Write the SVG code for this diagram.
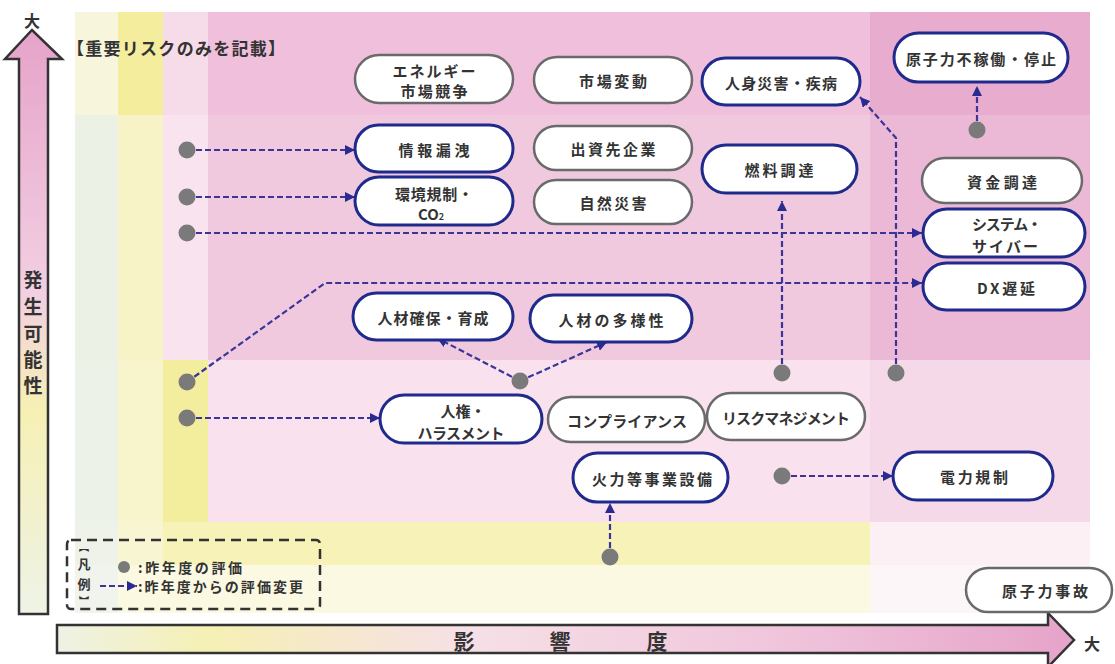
<svg xmlns="http://www.w3.org/2000/svg" width="1115" height="664" viewBox="0 0 1115 664">
<defs>
<style>
.t{font-family:"Noto Sans CJK JP","Noto Sans",sans-serif;font-weight:700;fill:#333;font-size:15px;text-anchor:middle;dominant-baseline:central}
.nb{fill:#fff;stroke:#1f2a8c;stroke-width:3}
.ng{fill:#fff;stroke:#6a6a6a;stroke-width:2.5}
.c{fill:none;stroke:#3b3599;stroke-width:2.2;stroke-dasharray:6 3;marker-end:url(#ah)}
.dot{fill:#7a7a7a}
.ax{stroke:#333;stroke-width:2.5}
</style>
<marker id="ah" markerUnits="userSpaceOnUse" markerWidth="11" markerHeight="10" refX="10" refY="5" orient="auto">
<path d="M0,0 L10,5 L0,10 z" fill="#2a2a90"/>
</marker>
<linearGradient id="gv" x1="0" y1="0" x2="0" y2="1">
<stop offset="0" stop-color="#e6a3c9"/>
<stop offset="0.45" stop-color="#f2cfe2"/>
<stop offset="0.65" stop-color="#f6f0b4"/>
<stop offset="1" stop-color="#eef3e6"/>
</linearGradient>
<linearGradient id="gh" x1="0" y1="0" x2="1" y2="0">
<stop offset="0" stop-color="#eef2e4"/>
<stop offset="0.15" stop-color="#f5f0b4"/>
<stop offset="0.4" stop-color="#f6e0e6"/>
<stop offset="0.7" stop-color="#f0c6dc"/>
<stop offset="1" stop-color="#e6a3c9"/>
</linearGradient>
</defs>
<rect width="1115" height="664" fill="#fff"/>
<g id="background">
<rect x="75" y="12" width="43" height="103" fill="#f7f6dc"/>
<rect x="118" y="12" width="45" height="103" fill="#f4ed9e"/>
<rect x="163" y="12" width="45" height="103" fill="#f6dce9"/>
<rect x="208" y="12" width="662" height="103" fill="#efbfdb"/>
<rect x="870" y="12" width="220" height="103" fill="#e8accf"/>
<rect x="75" y="115" width="43" height="245" fill="#ecf1e6"/>
<rect x="118" y="115" width="45" height="245" fill="#f7f3c6"/>
<rect x="163" y="115" width="45" height="245" fill="#f8e3ee"/>
<rect x="208" y="115" width="662" height="245" fill="#f0c9df"/>
<rect x="870" y="115" width="220" height="245" fill="#ebb8d6"/>
<rect x="75" y="360" width="43" height="162" fill="#edf2e8"/>
<rect x="118" y="360" width="45" height="162" fill="#f8f5cc"/>
<rect x="163" y="360" width="45" height="162" fill="#f3ee9e"/>
<rect x="208" y="360" width="662" height="162" fill="#f9e2ee"/>
<rect x="870" y="360" width="220" height="162" fill="#f6d9e8"/>
<rect x="75" y="522" width="43" height="43" fill="#eef2e8"/>
<rect x="118" y="522" width="45" height="43" fill="#f8f6d2"/>
<rect x="163" y="522" width="707" height="43" fill="#f7f3b8"/>
<rect x="870" y="522" width="220" height="43" fill="#fcf0f5"/>
<rect x="75" y="565" width="43" height="48" fill="#f1f4ec"/>
<rect x="118" y="565" width="752" height="48" fill="#fbf9e2"/>
<rect x="870" y="565" width="220" height="48" fill="#fdf6f9"/>
</g>
<g id="axes">
<polygon class="ax" points="19,614 19,59 5,59 32,30 62,59 48,59 48,614" fill="url(#gv)"/>
<polygon class="ax" points="57,625 1048,625 1048,613 1074,640 1048,667 1048,653 57,653" fill="url(#gh)"/>
<text class="t" x="32" y="20" style="font-size:16px">大</text>
<text class="t" x="1092" y="643" style="font-size:16px">大</text>
<text class="t" style="font-size:19px">
<tspan x="33" y="278">発</tspan><tspan x="33" y="305">生</tspan><tspan x="33" y="332">可</tspan><tspan x="33" y="358">能</tspan><tspan x="33" y="384">性</tspan>
</text>
<text class="t" style="font-size:21px">
<tspan x="464" y="640">影</tspan><tspan x="560" y="640">響</tspan><tspan x="657" y="640">度</tspan>
</text>
</g>
<text id="title" class="t" x="67" y="47" style="font-size:17px;text-anchor:start" textLength="218" lengthAdjust="spacing">【重要リスクのみを記載】</text>
<g id="legend">
<rect x="67" y="540" width="253" height="69" rx="4" fill="none" stroke="#333" stroke-width="2.5" stroke-dasharray="10 6"/>
<text class="t" x="84" y="546" style="font-size:10px">︻</text>
<text class="t" x="84" y="563" style="font-size:13px">凡</text>
<text class="t" x="84" y="583" style="font-size:13px">例</text>
<text class="t" x="84" y="600" style="font-size:10px">︼</text>
<circle class="dot" cx="124" cy="567" r="6"/>
<line x1="100" y1="586" x2="137" y2="586" class="c"/>
<text class="t" x="138" y="567" style="font-size:14px;text-anchor:start" textLength="104" lengthAdjust="spacing">:昨年度の評価</text>
<text class="t" x="138" y="586" style="font-size:14px;text-anchor:start" textLength="165" lengthAdjust="spacing">:昨年度からの評価変更</text>
</g>
<g id="connectors">
<line class="c" x1="187" y1="150" x2="355" y2="150"/>
<line class="c" x1="187" y1="197" x2="355" y2="197"/>
<line class="c" x1="187" y1="233" x2="922" y2="233"/>
<polyline class="c" points="187,382 325,283 922,283"/>
<line class="c" x1="187" y1="418" x2="380" y2="418"/>
<line class="c" x1="520" y1="381" x2="437" y2="338"/>
<line class="c" x1="520" y1="381" x2="607" y2="342"/>
<line class="c" x1="782" y1="373" x2="782" y2="201"/>
<polyline class="c" points="896,373 896,138 860,97"/>
<line class="c" x1="977" y1="130" x2="977" y2="86"/>
<line class="c" x1="782" y1="476" x2="893" y2="476"/>
<line class="c" x1="610" y1="557" x2="610" y2="503"/>
</g>
<g id="dots">
<circle class="dot" cx="187" cy="150" r="8.5"/>
<circle class="dot" cx="187" cy="197" r="8.5"/>
<circle class="dot" cx="187" cy="233" r="8.5"/>
<circle class="dot" cx="187" cy="382" r="8.5"/>
<circle class="dot" cx="187" cy="418" r="8.5"/>
<circle class="dot" cx="520" cy="381" r="8.5"/>
<circle class="dot" cx="782" cy="373" r="8.5"/>
<circle class="dot" cx="896" cy="373" r="8.5"/>
<circle class="dot" cx="977" cy="130" r="8.5"/>
<circle class="dot" cx="782" cy="476" r="8.5"/>
<circle class="dot" cx="610" cy="557" r="8.5"/>
</g>
<g id="n_energy"><rect class="ng" x="355" y="55" width="158" height="48" rx="24"/>
<text class="t" x="434" y="70" textLength="83" lengthAdjust="spacing">エネルギー</text><text class="t" x="434" y="90" textLength="67" lengthAdjust="spacing">市場競争</text></g>
<g id="n_market"><rect class="ng" x="534" y="57" width="158" height="46" rx="23"/>
<text class="t" x="613" y="80" textLength="68" lengthAdjust="spacing">市場変動</text></g>
<g id="n_injury"><rect class="nb" x="702" y="58" width="158" height="47" rx="23.5"/>
<text class="t" x="781" y="82" textLength="112" lengthAdjust="spacing">人身災害・疾病</text></g>
<g id="n_nuclear_stop"><rect class="nb" x="894" y="33" width="174" height="49" rx="24.5"/>
<text class="t" x="981" y="58" textLength="150" lengthAdjust="spacing">原子力不稼働・停止</text></g>
<g id="n_info"><rect class="nb" x="355" y="125" width="158" height="47" rx="23.5"/>
<text class="t" x="434" y="149" textLength="71" lengthAdjust="spacing">情報漏洩</text></g>
<g id="n_invest"><rect class="ng" x="534" y="126" width="158" height="44" rx="22"/>
<text class="t" x="613" y="148" textLength="85" lengthAdjust="spacing">出資先企業</text></g>
<g id="n_env"><rect class="nb" x="355" y="177" width="158" height="48" rx="24"/>
<text class="t" x="434" y="193" textLength="78" lengthAdjust="spacing">環境規制・</text><text class="t" x="431" y="213">CO<tspan dy="3" style="font-size:9px">2</tspan></text></g>
<g id="n_disaster"><rect class="ng" x="534" y="180" width="158" height="44" rx="22"/>
<text class="t" x="613" y="202" textLength="67" lengthAdjust="spacing">自然災害</text></g>
<g id="n_fuel"><rect class="nb" x="702" y="145" width="155" height="48" rx="24"/>
<text class="t" x="779" y="169" textLength="69" lengthAdjust="spacing">燃料調達</text></g>
<g id="n_fund"><rect class="ng" x="922" y="158" width="160" height="45" rx="22.5"/>
<text class="t" x="1002" y="181" textLength="70" lengthAdjust="spacing">資金調達</text></g>
<g id="n_system"><rect class="nb" x="923" y="209" width="162" height="48" rx="24"/>
<text class="t" x="1007" y="223" textLength="70" lengthAdjust="spacing">システム・</text><text class="t" x="1005" y="245" textLength="66" lengthAdjust="spacing">サイバー</text></g>
<g id="n_dx"><rect class="nb" x="923" y="263" width="162" height="47" rx="23.5"/>
<text class="t" x="1006" y="287" textLength="58" lengthAdjust="spacing">DX遅延</text></g>
<g id="n_talent"><rect class="nb" x="353" y="293" width="160" height="47" rx="23.5"/>
<text class="t" x="433" y="317" textLength="111" lengthAdjust="spacing">人材確保・育成</text></g>
<g id="n_diversity"><rect class="nb" x="530" y="295" width="162" height="47" rx="23.5"/>
<text class="t" x="611" y="319" textLength="105" lengthAdjust="spacing">人材の多様性</text></g>
<g id="n_human_rights"><rect class="nb" x="380" y="395" width="162" height="48" rx="24"/>
<text class="t" x="463" y="410" textLength="45" lengthAdjust="spacing">人権・</text><text class="t" x="461" y="432" textLength="87" lengthAdjust="spacing">ハラスメント</text></g>
<g id="n_compliance"><rect class="ng" x="548" y="397" width="157" height="45" rx="22.5"/>
<text class="t" x="627" y="420" textLength="120" lengthAdjust="spacing">コンプライアンス</text></g>
<g id="n_riskmgmt"><rect class="ng" x="707" y="393" width="158" height="47" rx="23.5"/>
<text class="t" x="786" y="417" textLength="128" lengthAdjust="spacing">リスクマネジメント</text></g>
<g id="n_thermal"><rect class="nb" x="573" y="453" width="155" height="49" rx="24.5"/>
<text class="t" x="652" y="478" textLength="120" lengthAdjust="spacing">火力等事業設備</text></g>
<g id="n_power_reg"><rect class="nb" x="893" y="452" width="160" height="48" rx="24"/>
<text class="t" x="974" y="476" textLength="68" lengthAdjust="spacing">電力規制</text></g>
<g id="n_nuclear_acc"><rect class="ng" x="966" y="568" width="146" height="44" rx="22"/>
<text class="t" x="1045" y="590" textLength="86" lengthAdjust="spacing">原子力事故</text></g>
</svg>
